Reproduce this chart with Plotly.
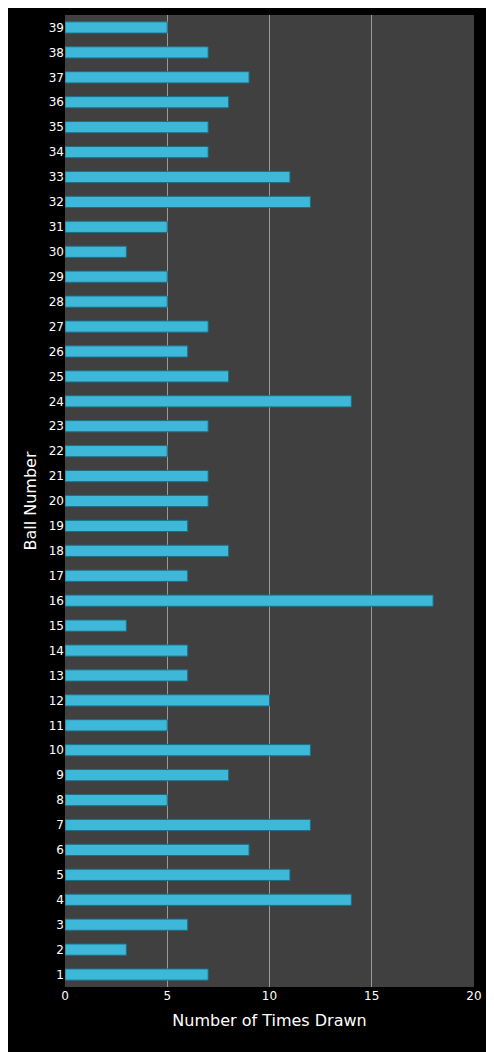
import plotly.graph_objects as go

balls = list(range(1, 40))
times_drawn = [7, 3, 6, 14, 11, 9, 12, 5, 8, 12,
               5, 10, 6, 6, 3, 18, 6, 8, 6, 7,
               7, 5, 7, 14, 8, 6, 7, 5, 5, 3,
               5, 12, 11, 7, 7, 8, 9, 7, 5]

fig = go.Figure()
fig.add_trace(go.Bar(
    x=times_drawn,
    y=balls,
    orientation="h",
    width=0.45,
    marker=dict(color="#3EB8D8", line=dict(color="#1D6E86", width=1)),
))
fig.update_layout(
    width=486, height=1044,
    margin=dict(l=57, r=20, t=7, b=65),
    paper_bgcolor="black",
    plot_bgcolor="#404040",
    font=dict(family="DejaVu Sans", color="white", size=12),
    showlegend=False,
    xaxis=dict(
        range=[0, 20], tickvals=[0, 5, 10, 15, 20],
        showgrid=True, gridcolor="#9a9a9a", gridwidth=1,
        zeroline=False, ticks="", tickfont=dict(size=12),
        title=dict(text="Number of Times Drawn", font=dict(size=16), standoff=12),
    ),
    yaxis=dict(
        range=[0.5, 39.5], tickvals=balls, showgrid=False, zeroline=False,
        ticks="", tickfont=dict(size=12),
        title=dict(text="Ball Number", font=dict(size=16), standoff=8),
    ),
)
fig.write_html("out.html", config={"displayModeBar": False})
